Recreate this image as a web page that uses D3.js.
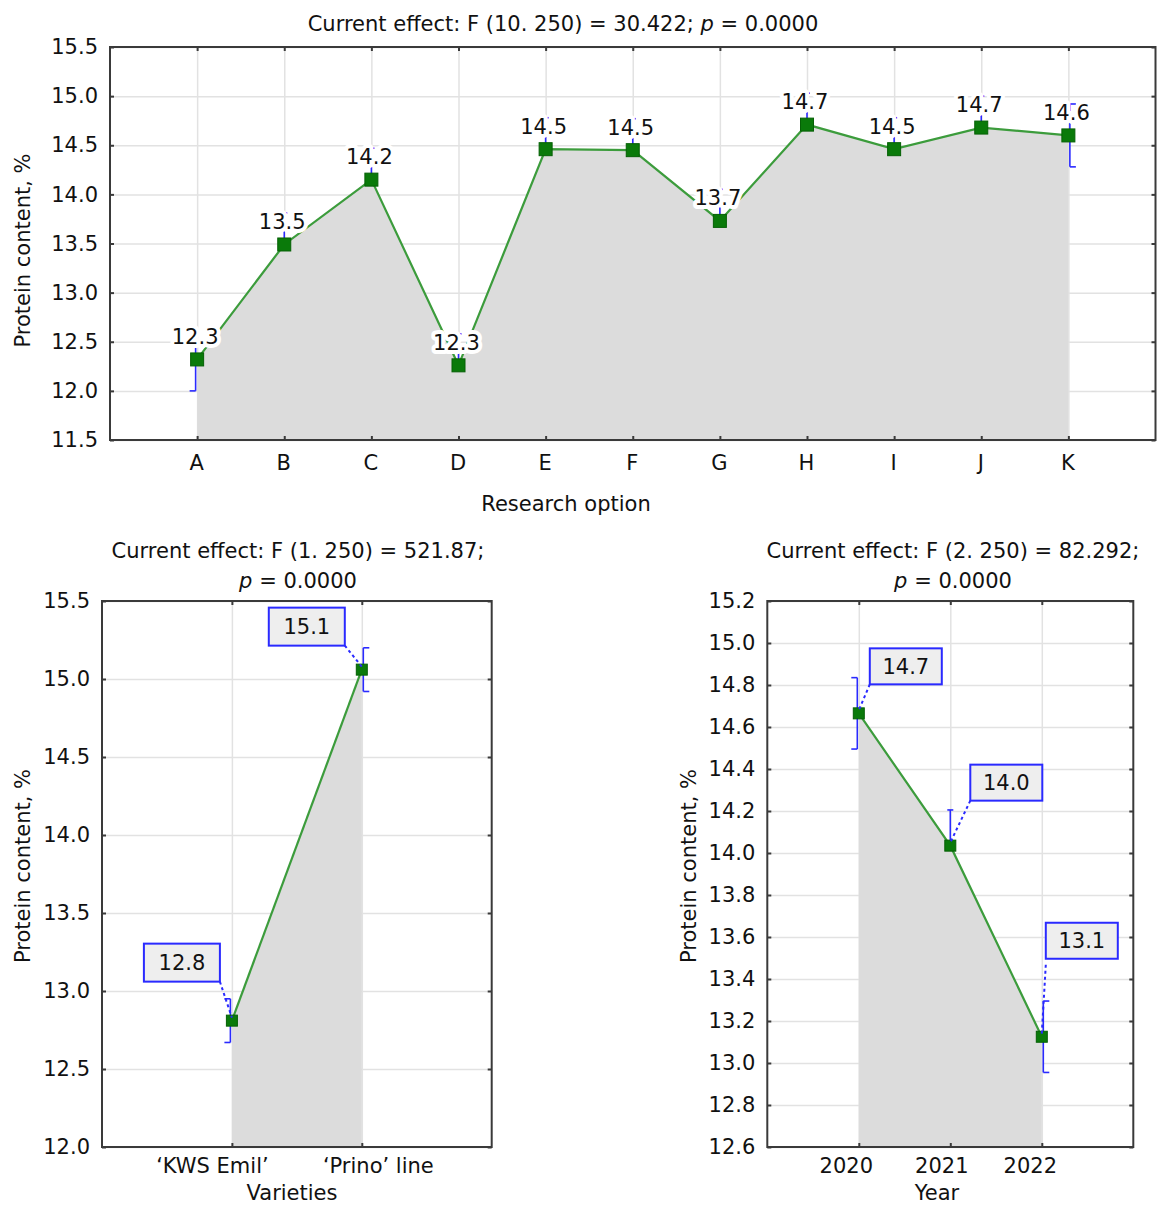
<!DOCTYPE html>
<html>
<head>
<meta charset="utf-8">
<script src="https://d3js.org/d3.v7.min.js"></script>
<style>
  body { margin: 0; background: #fff; }
  text { font-family: "DejaVu Sans", sans-serif; fill: #111; }
</style>
</head>
<body>
<svg id="chart" width="1157" height="1206"></svg>
<script>
// research options (top panel)
const optionCats = ["A", "B", "C", "D", "E", "F", "G", "H", "I", "J", "K"];
const optionMeans = [12.32, 13.49, 14.15, 12.26, 14.46, 14.45, 13.73, 14.71, 14.46, 14.68, 14.60];
const optionLabels = ["12.3", "13.5", "14.2", "12.3", "14.5", "14.5", "13.7", "14.7", "14.5", "14.7", "14.6"];
const optionErr = 0.32;
const optionTicks = [11.5, 12.0, 12.5, 13.0, 13.5, 14.0, 14.5, 15.0, 15.5];

// varieties (bottom left)
const varietyCats = ["\u2018KWS Emil\u2019", "\u2018Prino\u2019 line"];
const varietyMeans = [12.81, 15.06];
const varietyLabels = ["12.8", "15.1"];
const varietyErr = 0.14;
const varietyTicks = [12.0, 12.5, 13.0, 13.5, 14.0, 14.5, 15.0, 15.5];

// years (bottom right)
const yearCats = ["2020", "2021", "2022"];
const yearMeans = [14.665, 14.035, 13.125];
const yearLabels = ["14.7", "14.0", "13.1"];
const yearErr = 0.17;
const yearTicks = [12.6, 12.8, 13.0, 13.2, 13.4, 13.6, 13.8, 14.0, 14.2, 14.4, 14.6, 14.8, 15.0, 15.2];

const svg = d3.select("#chart");
const FS = 21;
const BLUE = "#2a2aff";

function drawPanel(o) {
  const n = o.cats.length;
  const x = d3.scaleLinear().domain([0, n + 1]).range([o.left, o.right]);
  const y = d3.scaleLinear().domain([o.ticks[0], o.ticks[o.ticks.length - 1]]).range([o.bottom, o.top]);
  const idx = d3.range(1, n + 1);
  const g = svg.append("g");
  const w = o.right - o.left, h = o.bottom - o.top;

  // grid
  g.append("g").attr("transform", `translate(${o.left},0)`)
    .call(d3.axisLeft(y).tickValues(o.ticks).tickSize(-w).tickFormat(""))
    .call(s => s.select(".domain").remove())
    .call(s => s.selectAll("line").attr("stroke", "#e2e2e2").attr("stroke-width", 1.5));
  g.append("g").attr("transform", `translate(0,${o.bottom})`)
    .call(d3.axisBottom(x).tickValues(idx).tickSize(-h).tickFormat(""))
    .call(s => s.select(".domain").remove())
    .call(s => s.selectAll("line").attr("stroke", "#e2e2e2").attr("stroke-width", 1.5));

  // error bars (behind the fill, end ones nudged outward like the original)
  o.means.forEach((m, i) => {
    const side = i === 0 ? -1 : (i === n - 1 ? 1 : 0);
    const xx = x(i + 1) + side * 1.5;
    const eg = g.append("g").attr("stroke", BLUE).attr("stroke-width", 1.6);
    eg.append("line").attr("x1", xx).attr("x2", xx).attr("y1", y(m - o.err)).attr("y2", y(m + o.err));
    const cw = side === 0 ? 3 : 6;
    [m - o.err, m + o.err].forEach(v => {
      eg.append("line").attr("x1", side < 0 ? xx - cw : xx - (side === 0 ? cw : 0))
        .attr("x2", side > 0 ? xx + cw : xx + (side === 0 ? cw : 0))
        .attr("y1", y(v)).attr("y2", y(v));
    });
  });

  // shaded area under the means
  const area = d3.area().x((d, i) => x(i + 1)).y0(o.bottom).y1(d => y(d));
  g.append("path").datum(o.means).attr("d", area).attr("fill", "#dcdcdc");

  // line
  const line = d3.line().x((d, i) => x(i + 1)).y(d => y(d));
  g.append("path").datum(o.means).attr("d", line)
    .attr("fill", "none").attr("stroke", "#3c9c3c").attr("stroke-width", 2.2);

  // markers
  g.selectAll("rect.mk").data(o.means).join("rect").attr("class", "mk")
    .attr("x", (d, i) => x(i + 1) - o.mk / 2).attr("y", d => y(d) - o.mk / 2)
    .attr("width", o.mk).attr("height", o.mk)
    .attr("fill", "#0a7a0a").attr("stroke", "#056005").attr("stroke-width", 1);

  // frame + inward ticks
  g.append("rect").attr("x", o.left).attr("y", o.top).attr("width", w).attr("height", h)
    .attr("fill", "none").attr("stroke", "#3a3a3a").attr("stroke-width", 2);

  const yl = g.append("g").attr("transform", `translate(${o.left},0)`)
    .call(d3.axisLeft(y).tickValues(o.ticks).tickSize(-4).tickPadding(12).tickFormat(d3.format(".1f")));
  const yr = g.append("g").attr("transform", `translate(${o.right},0)`)
    .call(d3.axisRight(y).tickValues(o.ticks).tickSize(-4).tickFormat(""));
  const xb = g.append("g").attr("transform", `translate(0,${o.bottom})`)
    .call(d3.axisBottom(x).tickValues(idx).tickSize(-4).tickPadding(o.xPad).tickFormat(i => o.cats[i - 1]));
  const xt = g.append("g").attr("transform", `translate(0,${o.top})`)
    .call(d3.axisTop(x).tickValues(idx).tickSize(-4).tickFormat(""));
  [yl, yr, xb, xt].forEach(a => {
    a.select(".domain").remove();
    a.selectAll("line").attr("stroke", "#3a3a3a").attr("stroke-width", 2);
    a.selectAll("text").attr("font-size", FS).attr("font-family", "DejaVu Sans").attr("fill", "#111");
  });
  xb.selectAll("text").attr("dx", (d, i) => o.xShift[i]);

  // value labels
  if (o.boxed) {
    o.means.forEach((m, i) => {
      const px = x(i + 1), py = y(m);
      const cx = px + o.lab[i][0], cy = py + o.lab[i][1];
      const bw = o.boxW, bh = o.boxH;
      const sx = cx + (px > cx ? bw / 2 : -bw / 2);
      const sy = cy + bh / 2 + (o.lab[i][2] || 0);
      g.append("line").attr("x1", sx).attr("y1", sy).attr("x2", px).attr("y2", py - 3)
        .attr("stroke", BLUE).attr("stroke-width", 2).attr("stroke-dasharray", "3,3");
      g.append("rect").attr("x", cx - bw / 2).attr("y", cy - bh / 2).attr("width", bw).attr("height", bh)
        .attr("fill", "#eeeeee").attr("stroke", BLUE).attr("stroke-width", 2);
      g.append("text").attr("x", cx).attr("y", cy).attr("dy", "0.36em").attr("text-anchor", "middle")
        .attr("font-size", FS).text(o.labels[i]);
    });
  } else {
    g.selectAll("text.vl").data(o.means).join("text").attr("class", "vl")
      .attr("x", (d, i) => x(i + 1) - 2).attr("y", d => y(d) - 23).attr("dy", "0.36em")
      .attr("text-anchor", "middle").attr("font-size", FS)
      .attr("stroke", "#fff").attr("stroke-width", 8).attr("stroke-linejoin", "round")
      .attr("paint-order", "stroke")
      .text((d, i) => o.labels[i]);
  }

  // titles
  const t1 = svg.append("text").attr("x", o.titleX).attr("y", o.titleY).attr("text-anchor", "middle").attr("font-size", FS);
  t1.append("tspan").text(o.title);
  if (!o.title2) {
    t1.append("tspan").attr("font-style", "italic").text("p");
    t1.append("tspan").text(" = 0.0000");
  } else {
    const t2 = svg.append("text").attr("x", o.titleX).attr("y", o.titleY + 30).attr("text-anchor", "middle").attr("font-size", FS);
    t2.append("tspan").attr("font-style", "italic").text("p");
    t2.append("tspan").text(" = 0.0000");
  }
  svg.append("text").attr("x", o.xTitleX).attr("y", o.xTitleY).attr("text-anchor", "middle")
    .attr("font-size", FS).text(o.xTitle);
  svg.append("text").attr("transform", `translate(${o.yTitleX},${(o.top + o.bottom) / 2 + o.yTitleDy}) rotate(-90)`)
    .attr("text-anchor", "middle").attr("dy", "0.36em").attr("font-size", FS).text("Protein content, %");
}

drawPanel({
  cats: optionCats, means: optionMeans, labels: optionLabels, err: optionErr, ticks: optionTicks,
  left: 110, right: 1155.5, top: 47, bottom: 440, mk: 13, xPad: 15,
  xShift: optionCats.map(() => -1),
  boxed: false,
  title: "Current effect: F (10. 250) = 30.422; ", titleX: 563, titleY: 31,
  xTitle: "Research option", xTitleX: 566, xTitleY: 511, yTitleX: 22, yTitleDy: 7
});

drawPanel({
  cats: varietyCats, means: varietyMeans, labels: varietyLabels, err: varietyErr, ticks: varietyTicks,
  left: 102, right: 491.7, top: 601, bottom: 1147, mk: 11, xPad: 11,
  xShift: [-20, 16],
  boxed: true, boxW: 76, boxH: 38, lab: [[-50, -58], [-55, -43]],
  title: "Current effect: F (1. 250) = 521.87;", title2: true, titleX: 298, titleY: 558,
  xTitle: "Varieties", xTitleX: 292, xTitleY: 1200, yTitleX: 22, yTitleDy: -8
});

drawPanel({
  cats: yearCats, means: yearMeans, labels: yearLabels, err: yearErr, ticks: yearTicks,
  left: 767.3, right: 1133.3, top: 601, bottom: 1147, mk: 11, xPad: 11,
  xShift: [-13, -9, -12],
  boxed: true, boxW: 72, boxH: 36, lab: [[47, -47], [56, -63], [40, -96, 6]],
  title: "Current effect: F (2. 250) = 82.292;", title2: true, titleX: 953, titleY: 558,
  xTitle: "Year", xTitleX: 937, xTitleY: 1200, yTitleX: 688, yTitleDy: -8
});
</script>
</body>
</html>
